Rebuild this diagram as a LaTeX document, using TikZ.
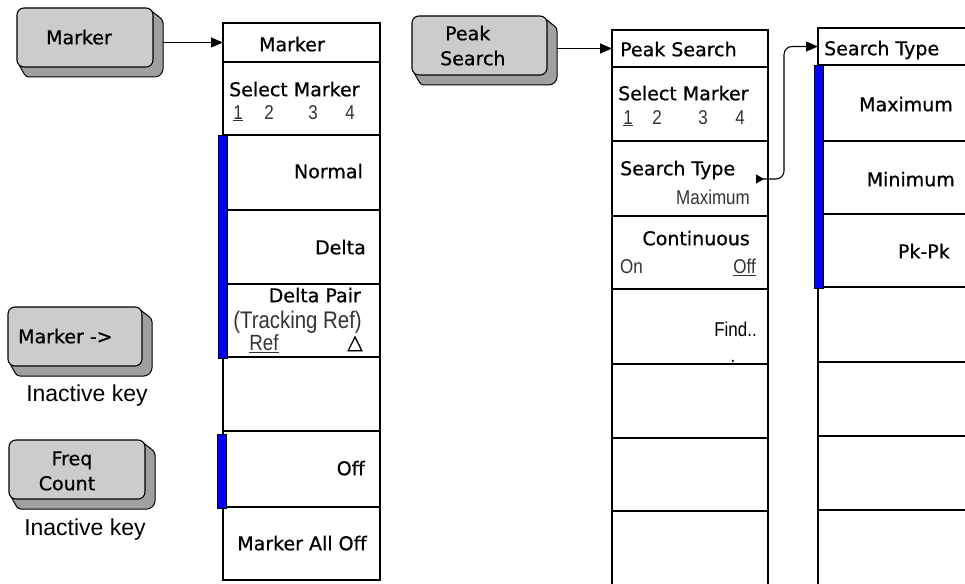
\documentclass[tikz,border=0pt]{standalone}
\usepackage{fontspec}
\setmainfont[FakeBold=0.7]{DejaVu Sans}
\newfontfamily\keyfont[FakeBold=0.7]{DejaVu Sans}
\newfontfamily\lightfont[FakeStretch=0.85]{Liberation Sans}
\newfontfamily\labelfont{Liberation Sans}
\usetikzlibrary{arrows.meta}
\definecolor{keyface}{HTML}{CCCCCC}
\definecolor{keyshadow}{HTML}{A0A0A0}
\definecolor{barblue}{HTML}{0000FF}
\newcommand{\cellbox}[5]{%
  \node[cell, minimum width={#3-#2}, minimum height={#5-#4}] (#1) at ({(#2+#3)/2},{(#4+#5)/2}) {};}
\newcommand{\softkey}[5]{%
  \draw[line width=1pt, fill=keyshadow, rounded corners=3pt]
    ({#4-4},{#3+1}) -- ({#4+10},{#3+12}) -- ({#4+10},{#5+5}) -- ({#4+5},{#5+10})
    -- ({#2+9},{#5+10}) -- ({#2+1},{#5-4}) -- cycle;
  \node[keymain, minimum width={#4-#2}, minimum height={#5-#3}] (#1) at ({(#2+#4)/2},{(#3+#5)/2}) {};
  \node[inner sep=0pt, outer sep=0pt, minimum width={#4-#2+10}, minimum height={#5-#3+10}] (#1O) at ({(#2+#4)/2+5},{(#3+#5)/2+5}) {};}
\tikzset{
  cell/.style={draw, line width=1.2pt, inner sep=0pt, outer sep=0pt},
  keymain/.style={draw, line width=1.1pt, fill=keyface, rounded corners=7pt, inner sep=0pt, outer sep=0pt},
  txt/.style={inner sep=0pt, yshift=-5.5pt, font=\keyfont\fontsize{19}{21}\selectfont},
  lt/.style={inner sep=0pt, yshift=-5.5pt, text=black!80, font=\lightfont\fontsize{20}{22}\selectfont},
  lbl/.style={inner sep=0pt, yshift=-5.5pt, font=\labelfont\fontsize{23}{25}\selectfont},
  arr/.style={line width=1.1pt, -{Triangle[length=12pt,width=10pt]}},
  bar/.style={draw, line width=0.6pt, fill=barblue},
}
\begin{document}
\begin{tikzpicture}[x=1pt,y=-1pt]
\useasboundingbox (0,0) rectangle (965,583);
% ---------- soft keys ----------
\softkey{mk}{17}{8}{153}{67}
\softkey{mkto}{8}{307}{142}{366}
\softkey{fc}{9}{440}{145}{499}
\softkey{ps}{412}{16}{547}{75}
\node[txt, anchor=mid] (mkT) at (79,36) {Marker};
\node[txt, anchor=mid west] (mktoT) at (18,335) {Marker ->};
\node[txt, anchor=mid] (fcT1) at (72,457) {Freq};
\node[txt, anchor=mid] (fcT2) at (67,482) {Count};
\node[txt, anchor=mid west] (psT1) at (445,32) {Peak};
\node[txt, anchor=mid west] (psT2) at (440,57) {Search};
\node[lbl, anchor=mid] (ina1) at (87,393) {Inactive key};
\node[lbl, anchor=mid] (ina2) at (85,527) {Inactive key};
% ---------- Marker panel ----------
\cellbox{m0}{223}{380}{23}{62}
\cellbox{m1}{223}{380}{62}{135}
\cellbox{m2}{223}{380}{135}{210}
\cellbox{m3}{223}{380}{210}{284}
\cellbox{m4}{223}{380}{284}{357}
\cellbox{m5}{223}{380}{357}{431}
\cellbox{m6}{223}{380}{431}{507}
\cellbox{m7}{223}{380}{507}{580}
\draw[bar] (218,135) rectangle (227,358);
\draw[bar] (217,434) rectangle (226,508);
\node[txt, anchor=mid] (m0t) at (292,43) {Marker};
\node[txt, anchor=mid west] (m1t) at (229,88) {Select Marker};
\node[lt, anchor=mid] (m1a) at (238,111) {\underline{1}};
\node[lt, anchor=mid] (m1b) at (269,111) {2};
\node[lt, anchor=mid] (m1c) at (313,111) {3};
\node[lt, anchor=mid] (m1d) at (350,111) {4};
\node[txt, anchor=mid east] (m2t) at (363,170) {Normal};
\node[txt, anchor=mid east] (m3t) at (366,246) {Delta};
\node[txt, anchor=mid east] (m4t) at (361,294) {Delta Pair};
\node[lt, anchor=mid east, font=\lightfont\fontsize{24}{26}\selectfont] (m4b) at (362,320) {(Tracking Ref)};
\node[lt, anchor=mid, font=\lightfont\fontsize{22}{24}\selectfont] (m4c) at (264,342) {\underline{Ref}};
\node[inner sep=0pt, anchor=mid, yshift=-5pt, font=\fontsize{20}{22}\selectfont] (m4d) at (355,341) {△};
\node[txt, anchor=mid east] (m6t) at (365,467) {Off};
\node[txt, anchor=mid] (m7t) at (302,542) {Marker All Off};
% ---------- Peak Search panel ----------
\cellbox{p0}{612}{768}{30}{67}
\cellbox{p1}{612}{768}{67}{141}
\cellbox{p2}{612}{768}{141}{216}
\cellbox{p3}{612}{768}{216}{289}
\cellbox{p4}{612}{768}{289}{364}
\cellbox{p5}{612}{768}{364}{438}
\cellbox{p6}{612}{768}{438}{511}
\cellbox{p7}{612}{768}{511}{595}
\node[txt, anchor=mid west] (p0t) at (620,48) {Peak Search};
\node[txt, anchor=mid west] (p1t) at (618,92) {Select Marker};
\node[lt, anchor=mid] (p1a) at (628,116) {\underline{1}};
\node[lt, anchor=mid] (p1b) at (657,116) {2};
\node[lt, anchor=mid] (p1c) at (703,116) {3};
\node[lt, anchor=mid] (p1d) at (740,116) {4};
\node[txt, anchor=mid west] (p2t) at (620,167) {Search Type};
\node[lt, anchor=mid east] (p2b) at (750,196) {Maximum};
\node[txt, anchor=mid east] (p3t) at (750,237) {Continuous};
\node[lt, anchor=mid west] (p3a) at (620,265) {On};
\node[lt, anchor=mid east] (p3b) at (756,265) {\underline{Off}};
\node[lt, anchor=mid east, text=black] (p4t) at (757,328) {Find..};
\node[lt, anchor=mid, text=black] (p4d) at (733,354) {.};
% ---------- Search Type panel ----------
\cellbox{s0}{818}{975}{28}{65}
\cellbox{s1}{818}{975}{65}{141}
\cellbox{s2}{818}{975}{141}{214}
\cellbox{s3}{818}{975}{214}{287}
\cellbox{s4}{818}{975}{287}{362}
\cellbox{s5}{818}{975}{362}{436}
\cellbox{s6}{818}{975}{436}{510}
\cellbox{s7}{818}{975}{510}{595}
\draw[bar] (814,65) rectangle (823,288);
\node[txt, anchor=mid west] (s0t) at (824,47) {Search Type};
\node[txt, anchor=mid east] (s1t) at (953,103) {Maximum};
\node[txt, anchor=mid east] (s2t) at (955,178) {Minimum};
\node[txt, anchor=mid east] (s3t) at (950,250) {Pk-Pk};
% ---------- connectors ----------
\draw[arr] (mkO.east |- m0.west) -- (m0.west);
\draw[arr] (psO.east |- p0.west) -- (p0.west);
\coordinate (stsrc) at (756,179);
\draw[line width=1.1pt, rounded corners=8pt, {Triangle[reversed,length=8pt,width=9pt]}-{Triangle[length=12pt,width=10pt]}]
  (stsrc) -- (784,179) -- (784,46.5) -- (s0.west);
\end{tikzpicture}
\end{document}
